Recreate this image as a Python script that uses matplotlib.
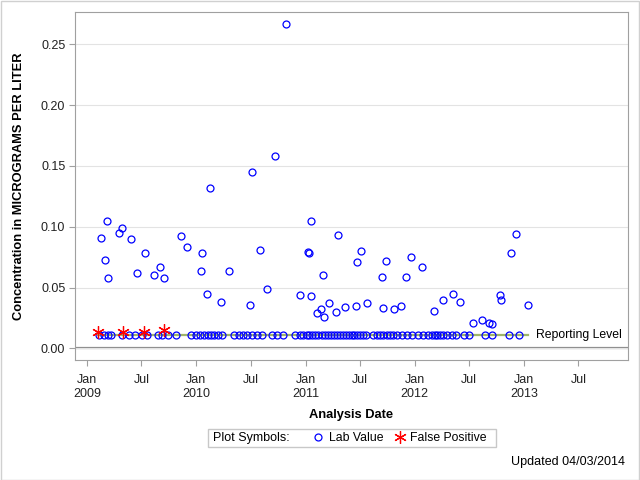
"""Concentration over time with reporting level and false positives."""

import matplotlib

matplotlib.use("Agg")
import matplotlib.pyplot as plt
import pandas as pd
from matplotlib.lines import Line2D
from matplotlib.patches import Rectangle

plt.rcParams["font.family"] = ["Liberation Sans", "DejaVu Sans"]

# --- Data ---------------------------------------------------------------------
REPORTING_LEVEL = 0.011

detect_dates = [
    "2009-02-16", "2009-03-01", "2009-03-09", "2009-03-12", "2009-04-18",
    "2009-04-28", "2009-05-27", "2009-06-17", "2009-07-14", "2009-08-13",
    "2009-09-01", "2009-09-15", "2009-11-11", "2009-11-30", "2010-01-17",
    "2010-01-21", "2010-02-05", "2010-02-16", "2010-03-25", "2010-04-21",
    "2010-06-30", "2010-07-07", "2010-08-03", "2010-08-26", "2010-09-21",
    "2010-10-29", "2010-12-13", "2011-01-09", "2011-01-13", "2011-01-20",
    "2011-01-20", "2011-02-08", "2011-02-21", "2011-03-01", "2011-03-05",
    "2011-03-21", "2011-04-14", "2011-04-19", "2011-05-14", "2011-06-20",
    "2011-06-23", "2011-07-06", "2011-07-26", "2011-09-15", "2011-09-18",
    "2011-09-28", "2011-10-25", "2011-11-17", "2011-12-04", "2011-12-21",
    "2012-01-26", "2012-03-05", "2012-04-06", "2012-05-09", "2012-06-01",
    "2012-07-15", "2012-08-13", "2012-09-05", "2012-09-16", "2012-10-12",
    "2012-10-17", "2012-11-19", "2012-12-06", "2013-01-14",
]
detect_values = [
    0.091, 0.073, 0.105, 0.058, 0.095,
    0.099, 0.090, 0.062, 0.078, 0.060,
    0.067, 0.058, 0.092, 0.083, 0.064,
    0.078, 0.045, 0.132, 0.038, 0.064,
    0.036, 0.145, 0.081, 0.049, 0.158,
    0.267, 0.044, 0.079, 0.078, 0.105,
    0.043, 0.029, 0.032, 0.060, 0.026,
    0.037, 0.030, 0.093, 0.034, 0.035,
    0.071, 0.080, 0.037, 0.059, 0.033,
    0.072, 0.032, 0.035, 0.059, 0.075,
    0.067, 0.031, 0.040, 0.045, 0.038,
    0.021, 0.023, 0.021, 0.020, 0.044,
    0.040, 0.078, 0.094, 0.036,
]

# samples reported at the reporting level
rl_dates = [
    "2009-02-09", "2009-02-26", "2009-03-11", "2009-03-21", "2009-04-27",
    "2009-05-19", "2009-06-11", "2009-07-03", "2009-07-21", "2009-08-26",
    "2009-09-08", "2009-09-28", "2009-10-25", "2009-12-14", "2009-12-30",
    "2010-01-12", "2010-01-26", "2010-02-08", "2010-02-18", "2010-02-28",
    "2010-03-14", "2010-03-27", "2010-05-07", "2010-05-23", "2010-06-06",
    "2010-06-19", "2010-07-06", "2010-07-22", "2010-08-08", "2010-09-10",
    "2010-09-27", "2010-10-17", "2010-11-26", "2010-12-13", "2010-12-23",
    "2011-01-06", "2011-01-12", "2011-01-23", "2011-02-02", "2011-02-12",
    "2011-02-25", "2011-03-07", "2011-03-17", "2011-03-27", "2011-04-06",
    "2011-04-16", "2011-04-26", "2011-05-06", "2011-05-16", "2011-05-26",
    "2011-06-05", "2011-06-12", "2011-06-22", "2011-07-02", "2011-07-12",
    "2011-07-22", "2011-08-14", "2011-08-27", "2011-09-06", "2011-09-16",
    "2011-09-30", "2011-10-10", "2011-10-20", "2011-11-02", "2011-11-19",
    "2011-12-06", "2011-12-23", "2012-01-12", "2012-01-29", "2012-02-14",
    "2012-02-28", "2012-03-09", "2012-03-16", "2012-03-26", "2012-04-05",
    "2012-04-18", "2012-05-05", "2012-05-18", "2012-06-14", "2012-07-01",
    "2012-08-23", "2012-09-16", "2012-11-11", "2012-12-15",
]

fp_dates = ["2009-02-06", "2009-04-29", "2009-07-10", "2009-09-15"]
fp_values = [0.0135, 0.0135, 0.0135, 0.0148]

x_ticks = pd.date_range("2009-01-01", "2013-07-01", freq="6MS")
x_tick_labels = ["Jan\n2009", "Jul", "Jan\n2010", "Jul", "Jan\n2011", "Jul",
                 "Jan\n2012", "Jul", "Jan\n2013", "Jul"]
y_ticks = [0.00, 0.05, 0.10, 0.15, 0.20, 0.25]

detect_dates = pd.to_datetime(detect_dates)
rl_dates = pd.to_datetime(rl_dates)
fp_dates = pd.to_datetime(fp_dates)

# --- Figure -------------------------------------------------------------------
fig = plt.figure(figsize=(6.4, 4.8), dpi=100)
ax = fig.add_axes([75 / 640, 1 - 360 / 480, 553 / 640, 348 / 480])

GRAY = "#a0a0a0"
BLUE = "#0000ff"
RED = "#ff0000"

ax.yaxis.grid(True, color="#e3e3e3", linewidth=0.8, zorder=0)
ax.axhline(0, color="#8c8c8c", linewidth=1.6, zorder=1)

# reporting level line across the sampling period
t_min = min(rl_dates.min(), detect_dates.min(), fp_dates.min())
t_max = max(rl_dates.max(), detect_dates.max(), fp_dates.max())
ax.plot([t_min, t_max], [REPORTING_LEVEL, REPORTING_LEVEL],
        color="#9fb56a", linewidth=1.6, zorder=2)
ax.annotate("Reporting Level", xy=(t_max, REPORTING_LEVEL),
            xytext=(6, 0), textcoords="offset points",
            ha="left", va="center", fontsize=8.8)

circle = dict(linestyle="none", marker="o", markersize=5, markeredgewidth=0.9,
              markerfacecolor="none", markeredgecolor=BLUE, zorder=3)
ax.plot(rl_dates, [REPORTING_LEVEL] * len(rl_dates), **circle)
ax.plot(detect_dates, detect_values, **circle)

star = dict(linestyle="none", marker=(6, 2, 0), markersize=9,
            markeredgewidth=0.9, color=RED, zorder=4)
ax.plot(fp_dates, fp_values, **star)

ax.set_xlim(pd.Timestamp("2008-11-21"), pd.Timestamp("2013-12-14"))
ax.set_ylim(-0.0096, 0.2766)
ax.set_xticks(x_ticks)
ax.set_xticklabels(x_tick_labels)
ax.set_yticks(y_ticks)
ax.set_yticklabels([f"{v:.2f}" for v in y_ticks])

for sp in ax.spines.values():
    sp.set_color(GRAY)
    sp.set_linewidth(0.8)
ax.tick_params(color=GRAY, length=4, width=0.8, labelsize=9,
               labelcolor="#222222", pad=3)
ax.tick_params(axis="x", pad=6)

fig.text(19 / 640, 1 - 186 / 480, "Concentration in MICROGRAMS PER LITER",
         rotation=90, ha="center", va="center", fontsize=9.3,
         fontweight="bold")
fig.text(351 / 640, 1 - 415 / 480, "Analysis Date", ha="center", va="center",
         fontsize=9.3, fontweight="bold")

# legend box
fig.patches.append(Rectangle((208 / 640, 1 - 447 / 480), 288 / 640, 18 / 480,
                             transform=fig.transFigure, fill=False,
                             edgecolor="#c8c8c8", linewidth=1))
fig.text(213 / 640, 1 - 438 / 480, "Plot Symbols:", ha="left", va="center",
         fontsize=9)
handles = [
    Line2D([], [], **circle),
    Line2D([], [], **star),
]
fig.legend(handles, ["Lab Value", "False Positive"], ncol=2,
           loc="center left", bbox_to_anchor=(312 / 640, 1 - 438 / 480),
           frameon=False, fontsize=8.8, borderpad=0, borderaxespad=0,
           handlelength=1.0, handletextpad=0.4, columnspacing=0.8)

fig.text(625 / 640, 1 - 462 / 480, "Updated 04/03/2014", ha="right",
         va="center", fontsize=9)

# outer border
fig.patches.append(Rectangle((0.5 / 640, 0.5 / 480), 638.5 / 640, 478.5 / 480,
                             transform=fig.transFigure, fill=False,
                             edgecolor="#d0d0d0", linewidth=1))

fig.savefig("out.png", dpi=100)
